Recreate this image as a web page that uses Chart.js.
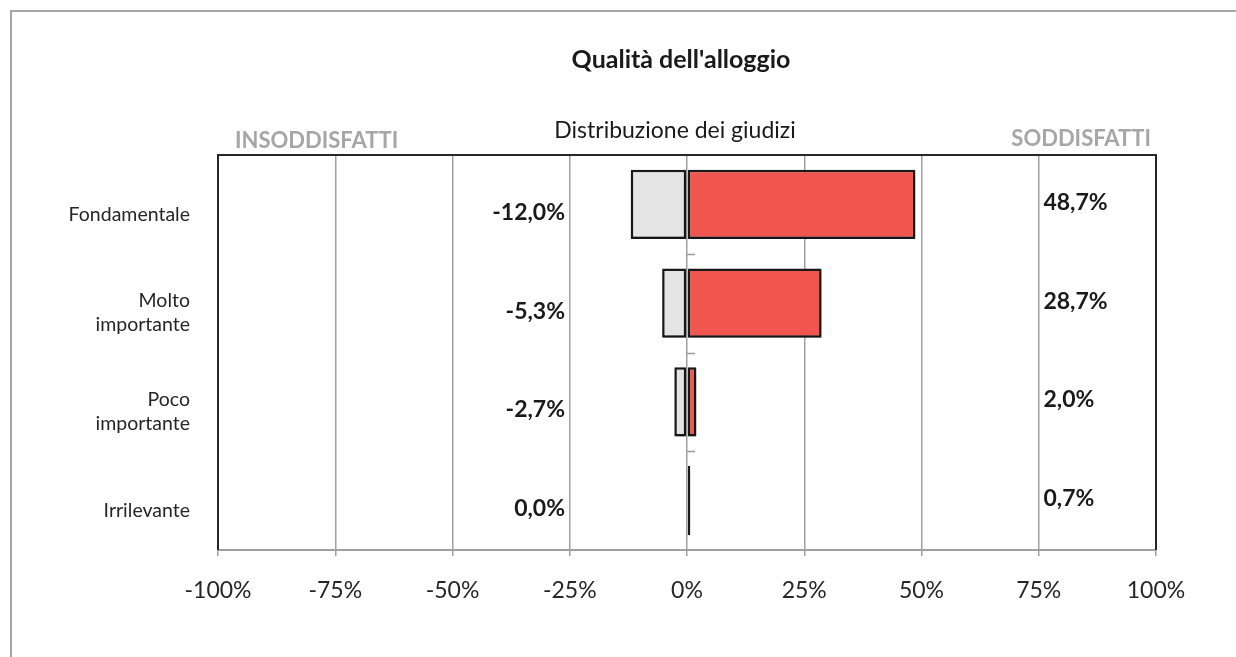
<!DOCTYPE html>
<html>
<head>
<meta charset="utf-8">
<script src="https://cdn.jsdelivr.net/npm/chart.js@4/dist/chart.umd.min.js"></script>
<style>
  html, body { margin: 0; padding: 0; background: #fff; overflow: hidden; }
  #wrap { position: relative; width: 1236px; height: 657px; }
  #frame { position: absolute; left: 10px; top: 10px; width: 1300px; height: 700px; border: 2px solid #a6a6a6; box-sizing: border-box; }
  canvas { position: absolute; left: 0; top: 0; }
</style>
</head>
<body>
<div id="wrap">
  <div id="frame"></div>
  <canvas id="chart" width="1236" height="657"></canvas>
</div>
<script>
const categories = [['Fondamentale'], ['Molto', 'importante'], ['Poco', 'importante'], ['Irrilevante']];
const insoddisfatti = [-12.0, -5.3, -2.7, 0.0];
const soddisfatti = [48.7, 28.7, 2.0, 0.7];
const xTicks = [-100, -75, -50, -25, 0, 25, 50, 75, 100];

const chartTitle = "Qualità dell'alloggio";
const chartSubtitle = 'Distribuzione dei giudizi';
const leftHeader = 'INSODDISFATTI';
const rightHeader = 'SODDISFATTI';

const FONT = 'Lato, "Open Sans", sans-serif';

function pct(v) {
  return v.toFixed(1).replace('.', ',') + '%';
}

// soft drop shadow under the bars, like the office chart
const shadowPlugin = {
  id: 'barShadow',
  beforeDatasetDraw(chart) {
    const ctx = chart.ctx;
    ctx.save();
    ctx.shadowColor = 'rgba(0,0,0,0.35)';
    ctx.shadowBlur = 5;
    ctx.shadowOffsetX = 1;
    ctx.shadowOffsetY = 3;
  },
  afterDatasetDraw(chart) {
    chart.ctx.restore();
  }
};

const decorPlugin = {
  id: 'decor',
  afterDraw(chart) {
    const ctx = chart.ctx;
    const area = chart.chartArea;
    const xs = chart.scales.x;
    const ys = chart.scales.y;
    const cx = xs.getPixelForValue(0);
    ctx.save();

    // plot frame: top, left, right dark
    ctx.strokeStyle = '#262626';
    ctx.lineWidth = 2;
    ctx.beginPath();
    ctx.moveTo(area.left, area.bottom);
    ctx.lineTo(area.left, area.top);
    ctx.lineTo(area.right, area.top);
    ctx.lineTo(area.right, area.bottom);
    ctx.stroke();

    // minor ticks on the zero axis between categories
    ctx.strokeStyle = '#999';
    ctx.lineWidth = 1.5;
    for (let i = 0; i < categories.length - 1; i++) {
      const y = Math.round(ys.getPixelForValue(i + 0.5)) + 0.5;
      ctx.beginPath();
      ctx.moveTo(cx, y);
      ctx.lineTo(cx + 8, y);
      ctx.stroke();
    }

    // titles
    ctx.fillStyle = '#1a1a1a';
    ctx.textAlign = 'center';
    ctx.textBaseline = 'middle';
    ctx.font = 'bold 25px ' + FONT;
    ctx.fillText(chartTitle, cx - 6, 60);
    ctx.font = '23px ' + FONT;
    ctx.fillText(chartSubtitle, cx - 12, 131);

    ctx.fillStyle = '#a6a6a6';
    ctx.font = 'bold 22px ' + FONT;
    ctx.textAlign = 'left';
    ctx.fillText(leftHeader, 235, 141);
    ctx.textAlign = 'right';
    ctx.fillText(rightHeader, 1151, 139);

    // category labels
    ctx.fillStyle = '#262626';
    ctx.font = '19.5px ' + FONT;
    ctx.textAlign = 'right';
    categories.forEach((lines, i) => {
      const yc = ys.getPixelForValue(i) + 10;
      const lh = 24;
      const y0 = yc - (lines.length - 1) * lh / 2;
      lines.forEach((t, k) => ctx.fillText(t, 190, y0 + k * lh));
    });

    // value labels
    ctx.font = 'bold 23px ' + FONT;
    ctx.fillStyle = '#1a1a1a';
    insoddisfatti.forEach((v, i) => {
      ctx.textAlign = 'right';
      ctx.fillText(pct(v), xs.getPixelForValue(-26), ys.getPixelForValue(i) + 8);
    });
    soddisfatti.forEach((v, i) => {
      ctx.textAlign = 'left';
      ctx.fillText(pct(v), xs.getPixelForValue(76), ys.getPixelForValue(i) - 2);
    });

    ctx.restore();
  }
};

new Chart(document.getElementById('chart'), {
  type: 'bar',
  data: {
    labels: categories,
    datasets: [
      {
        label: 'Insoddisfatti',
        data: insoddisfatti,
        backgroundColor: '#e4e4e4',
        borderColor: '#1a1a1a',
        borderWidth: 2.5,
        borderSkipped: false,
      },
      {
        label: 'Soddisfatti',
        data: soddisfatti,
        backgroundColor: '#f05550',
        borderColor: '#1a1a1a',
        borderWidth: 2.5,
        borderSkipped: false,
      }
    ]
  },
  options: {
    indexAxis: 'y',
    responsive: false,
    animation: false,
    events: [],
    layout: { padding: { left: 218, right: 80, top: 155, bottom: 0 } },
    datasets: { bar: { categoryPercentage: 1, barPercentage: 0.7 } },
    plugins: { legend: { display: false }, tooltip: { enabled: false }, title: { display: false } },
    scales: {
      x: {
        stacked: true,
        min: -100,
        max: 100,
        afterBuildTicks: s => { s.ticks = xTicks.map(v => ({ value: v })); },
        afterFit: s => { s.height = 107; },
        grid: { color: '#a0a0a0', lineWidth: 1.5, tickLength: 6, drawTicks: true },
        border: { color: '#a0a0a0', width: 2 },
        ticks: {
          color: '#262626',
          font: { family: FONT, size: 23 },
          padding: 21,
          maxRotation: 0,
          callback: v => v + '%'
        }
      },
      y: {
        stacked: true,
        afterFit: s => { s.width = 0; },
        grid: { display: false },
        border: { display: false },
        ticks: { display: false }
      }
    }
  },
  plugins: [shadowPlugin, decorPlugin]
});
</script>
</body>
</html>
